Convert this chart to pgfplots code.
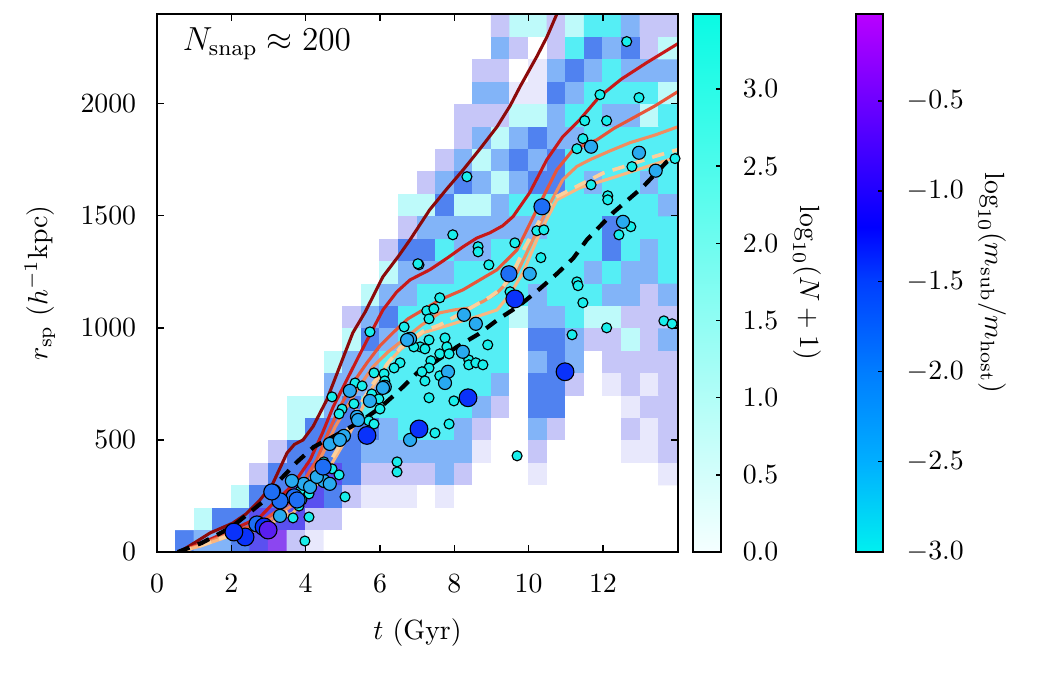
\documentclass[border=0pt]{standalone}
\usepackage{pgfplots}
\pgfplotsset{compat=1.18}
\definecolor{lcA}{RGB}{140,10,10}
\definecolor{lcB}{RGB}{200,25,25}
\definecolor{lcC}{RGB}{232,85,58}
\definecolor{lcD}{RGB}{242,140,95}
\definecolor{lcE}{RGB}{252,208,155}
\definecolor{lcF}{RGB}{250,182,128}
\definecolor{mS}{RGB}{25,238,235}
\definecolor{mM}{RGB}{40,170,240}
\definecolor{mL}{RGB}{30,110,245}
\definecolor{mX}{RGB}{10,50,250}
\definecolor{mP}{RGB}{90,30,240}
\begin{document}
\begin{tikzpicture}[x=1pt,y=1pt]
\useasboundingbox (0,0) rectangle (378,243);
\begin{axis}[
  at={(56.52pt,44.28pt)}, anchor=south west,
  scale only axis, width=187.56pt, height=193.68pt,
  xmin=0, xmax=14.02, ymin=0, ymax=2400,
  xtick={0,2,...,12}, ytick={0,500,...,2000},
  tick align=inside, major tick length=2.5pt,
  tick style={black, line width=0.5pt},
  axis line style={black, line width=0.7pt},
  /pgf/number format/1000 sep={},
  xticklabel style={yshift=-4.5pt},
  yticklabel style={xshift=-4pt},
  xlabel={$t$ (Gyr)}, ylabel={$r_{\rm sp}$ ($h^{-1}$kpc)},
  xlabel style={at={(axis description cs:0.5,-0.1506)}, anchor=center},
  ylabel style={at={(axis description cs:-0.2246,0.5)}, anchor=center},
  colormap={hist}{rgb255=(255,255,255) rgb255=(232,232,252) rgb255=(198,198,248) rgb255=(190,250,250) rgb255=(85,238,245) rgb255=(130,180,248) rgb255=(80,130,240) rgb255=(90,80,240) rgb255=(140,70,240)},
  point meta min=0, point meta max=8,
  axis on top, clip=true
]
\addplot[matrix plot*, mesh/cols=27, point meta=explicit] coordinates {
(0.75,50)[6] (1.25,50)[5] (1.75,50)[5] (2.25,50)[6] (2.75,50)[7] (3.25,50)[8] (3.75,50)[2] (4.25,50)[1] (4.75,50)[0] (5.25,50)[0] (5.75,50)[0] (6.25,50)[0] (6.75,50)[0] (7.25,50)[0] (7.75,50)[0] (8.25,50)[0] (8.75,50)[0] (9.25,50)[0] (9.75,50)[0] (10.25,50)[0] (10.75,50)[0] (11.25,50)[0] (11.75,50)[0] (12.25,50)[0] (12.75,50)[0] (13.25,50)[0] (13.75,50)[0]
(0.75,150)[0] (1.25,150)[3] (1.75,150)[6] (2.25,150)[6] (2.75,150)[7] (3.25,150)[7] (3.75,150)[7] (4.25,150)[2] (4.75,150)[2] (5.25,150)[0] (5.75,150)[0] (6.25,150)[0] (6.75,150)[0] (7.25,150)[0] (7.75,150)[0] (8.25,150)[0] (8.75,150)[0] (9.25,150)[0] (9.75,150)[0] (10.25,150)[0] (10.75,150)[0] (11.25,150)[0] (11.75,150)[0] (12.25,150)[0] (12.75,150)[0] (13.25,150)[0] (13.75,150)[0]
(0.75,250)[0] (1.25,250)[0] (1.75,250)[0] (2.25,250)[3] (2.75,250)[6] (3.25,250)[6] (3.75,250)[7] (4.25,250)[7] (4.75,250)[6] (5.25,250)[2] (5.75,250)[1] (6.25,250)[1] (6.75,250)[1] (7.25,250)[0] (7.75,250)[1] (8.25,250)[0] (8.75,250)[0] (9.25,250)[0] (9.75,250)[0] (10.25,250)[0] (10.75,250)[0] (11.25,250)[0] (11.75,250)[0] (12.25,250)[0] (12.75,250)[0] (13.25,250)[0] (13.75,250)[0]
(0.75,350)[0] (1.25,350)[0] (1.75,350)[0] (2.25,350)[0] (2.75,350)[2] (3.25,350)[6] (3.75,350)[6] (4.25,350)[7] (4.75,350)[7] (5.25,350)[6] (5.75,350)[2] (6.25,350)[2] (6.75,350)[2] (7.25,350)[2] (7.75,350)[5] (8.25,350)[2] (8.75,350)[0] (9.25,350)[0] (9.75,350)[0] (10.25,350)[1] (10.75,350)[0] (11.25,350)[0] (11.75,350)[0] (12.25,350)[0] (12.75,350)[0] (13.25,350)[0] (13.75,350)[1]
(0.75,450)[0] (1.25,450)[0] (1.75,450)[0] (2.25,450)[0] (2.75,450)[0] (3.25,450)[2] (3.75,450)[6] (4.25,450)[6] (4.75,450)[6] (5.25,450)[6] (5.75,450)[5] (6.25,450)[5] (6.75,450)[5] (7.25,450)[5] (7.75,450)[5] (8.25,450)[5] (8.75,450)[1] (9.25,450)[0] (9.75,450)[0] (10.25,450)[2] (10.75,450)[0] (11.25,450)[0] (11.75,450)[0] (12.25,450)[0] (12.75,450)[1] (13.25,450)[1] (13.75,450)[2]
(0.75,550)[0] (1.25,550)[0] (1.75,550)[0] (2.25,550)[0] (2.75,550)[0] (3.25,550)[0] (3.75,550)[3] (4.25,550)[6] (4.75,550)[6] (5.25,550)[6] (5.75,550)[6] (6.25,550)[5] (6.75,550)[4] (7.25,550)[4] (7.75,550)[4] (8.25,550)[5] (8.75,550)[2] (9.25,550)[0] (9.75,550)[0] (10.25,550)[5] (10.75,550)[2] (11.25,550)[0] (11.75,550)[0] (12.25,550)[0] (12.75,550)[2] (13.25,550)[1] (13.75,550)[2]
(0.75,650)[0] (1.25,650)[0] (1.75,650)[0] (2.25,650)[0] (2.75,650)[0] (3.25,650)[0] (3.75,650)[3] (4.25,650)[3] (4.75,650)[5] (5.25,650)[6] (5.75,650)[4] (6.25,650)[4] (6.75,650)[4] (7.25,650)[4] (7.75,650)[4] (8.25,650)[4] (8.75,650)[5] (9.25,650)[2] (9.75,650)[0] (10.25,650)[6] (10.75,650)[6] (11.25,650)[0] (11.75,650)[0] (12.25,650)[0] (12.75,650)[1] (13.25,650)[2] (13.75,650)[2]
(0.75,750)[0] (1.25,750)[0] (1.75,750)[0] (2.25,750)[0] (2.75,750)[0] (3.25,750)[0] (3.75,750)[0] (4.25,750)[0] (4.75,750)[5] (5.25,750)[5] (5.75,750)[5] (6.25,750)[4] (6.75,750)[4] (7.25,750)[4] (7.75,750)[4] (8.25,750)[4] (8.75,750)[4] (9.25,750)[5] (9.75,750)[0] (10.25,750)[6] (10.75,750)[6] (11.25,750)[2] (11.75,750)[0] (12.25,750)[1] (12.75,750)[2] (13.25,750)[1] (13.75,750)[2]
(0.75,850)[0] (1.25,850)[0] (1.75,850)[0] (2.25,850)[0] (2.75,850)[0] (3.25,850)[0] (3.75,850)[0] (4.25,850)[0] (4.75,850)[3] (5.25,850)[5] (5.75,850)[5] (6.25,850)[4] (6.75,850)[4] (7.25,850)[4] (7.75,850)[4] (8.25,850)[4] (8.75,850)[4] (9.25,850)[4] (9.75,850)[0] (10.25,850)[5] (10.75,850)[6] (11.25,850)[5] (11.75,850)[0] (12.25,850)[2] (12.75,850)[2] (13.25,850)[2] (13.75,850)[2]
(0.75,950)[0] (1.25,950)[0] (1.75,950)[0] (2.25,950)[0] (2.75,950)[0] (3.25,950)[0] (3.75,950)[0] (4.25,950)[0] (4.75,950)[0] (5.25,950)[3] (5.75,950)[6] (6.25,950)[5] (6.75,950)[4] (7.25,950)[4] (7.75,950)[4] (8.25,950)[4] (8.75,950)[4] (9.25,950)[4] (9.75,950)[0] (10.25,950)[6] (10.75,950)[6] (11.25,950)[5] (11.75,950)[2] (12.25,950)[2] (12.75,950)[3] (13.25,950)[2] (13.75,950)[5]
(0.75,1050)[0] (1.25,1050)[0] (1.75,1050)[0] (2.25,1050)[0] (2.75,1050)[0] (3.25,1050)[0] (3.75,1050)[0] (4.25,1050)[0] (4.75,1050)[0] (5.25,1050)[2] (5.75,1050)[5] (6.25,1050)[6] (6.75,1050)[4] (7.25,1050)[4] (7.75,1050)[4] (8.25,1050)[4] (8.75,1050)[4] (9.25,1050)[4] (9.75,1050)[3] (10.25,1050)[5] (10.75,1050)[5] (11.25,1050)[4] (11.75,1050)[3] (12.25,1050)[3] (12.75,1050)[2] (13.25,1050)[2] (13.75,1050)[2]
(0.75,1150)[0] (1.25,1150)[0] (1.75,1150)[0] (2.25,1150)[0] (2.75,1150)[0] (3.25,1150)[0] (3.75,1150)[0] (4.25,1150)[0] (4.75,1150)[0] (5.25,1150)[0] (5.75,1150)[3] (6.25,1150)[5] (6.75,1150)[5] (7.25,1150)[4] (7.75,1150)[4] (8.25,1150)[4] (8.75,1150)[4] (9.25,1150)[4] (9.75,1150)[4] (10.25,1150)[5] (10.75,1150)[4] (11.25,1150)[4] (11.75,1150)[4] (12.25,1150)[5] (12.75,1150)[5] (13.25,1150)[2] (13.75,1150)[5]
(0.75,1250)[0] (1.25,1250)[0] (1.75,1250)[0] (2.25,1250)[0] (2.75,1250)[0] (3.25,1250)[0] (3.75,1250)[0] (4.25,1250)[0] (4.75,1250)[0] (5.25,1250)[0] (5.75,1250)[0] (6.25,1250)[3] (6.75,1250)[5] (7.25,1250)[5] (7.75,1250)[5] (8.25,1250)[4] (8.75,1250)[4] (9.25,1250)[4] (9.75,1250)[4] (10.25,1250)[4] (10.75,1250)[4] (11.25,1250)[4] (11.75,1250)[5] (12.25,1250)[4] (12.75,1250)[5] (13.25,1250)[5] (13.75,1250)[4]
(0.75,1350)[0] (1.25,1350)[0] (1.75,1350)[0] (2.25,1350)[0] (2.75,1350)[0] (3.25,1350)[0] (3.75,1350)[0] (4.25,1350)[0] (4.75,1350)[0] (5.25,1350)[0] (5.75,1350)[0] (6.25,1350)[2] (6.75,1350)[6] (7.25,1350)[6] (7.75,1350)[4] (8.25,1350)[5] (8.75,1350)[5] (9.25,1350)[4] (9.75,1350)[4] (10.25,1350)[4] (10.75,1350)[4] (11.25,1350)[4] (11.75,1350)[4] (12.25,1350)[6] (12.75,1350)[4] (13.25,1350)[5] (13.75,1350)[4]
(0.75,1450)[0] (1.25,1450)[0] (1.75,1450)[0] (2.25,1450)[0] (2.75,1450)[0] (3.25,1450)[0] (3.75,1450)[0] (4.25,1450)[0] (4.75,1450)[0] (5.25,1450)[0] (5.75,1450)[0] (6.25,1450)[0] (6.75,1450)[2] (7.25,1450)[5] (7.75,1450)[5] (8.25,1450)[5] (8.75,1450)[5] (9.25,1450)[5] (9.75,1450)[5] (10.25,1450)[5] (10.75,1450)[4] (11.25,1450)[4] (11.75,1450)[4] (12.25,1450)[6] (12.75,1450)[4] (13.25,1450)[4] (13.75,1450)[4]
(0.75,1550)[0] (1.25,1550)[0] (1.75,1550)[0] (2.25,1550)[0] (2.75,1550)[0] (3.25,1550)[0] (3.75,1550)[0] (4.25,1550)[0] (4.75,1550)[0] (5.25,1550)[0] (5.75,1550)[0] (6.25,1550)[0] (6.75,1550)[3] (7.25,1550)[3] (7.75,1550)[6] (8.25,1550)[3] (8.75,1550)[3] (9.25,1550)[5] (9.75,1550)[4] (10.25,1550)[4] (10.75,1550)[4] (11.25,1550)[4] (11.75,1550)[4] (12.25,1550)[4] (12.75,1550)[4] (13.25,1550)[4] (13.75,1550)[5]
(0.75,1650)[0] (1.25,1650)[0] (1.75,1650)[0] (2.25,1650)[0] (2.75,1650)[0] (3.25,1650)[0] (3.75,1650)[0] (4.25,1650)[0] (4.75,1650)[0] (5.25,1650)[0] (5.75,1650)[0] (6.25,1650)[0] (6.75,1650)[0] (7.25,1650)[2] (7.75,1650)[5] (8.25,1650)[6] (8.75,1650)[5] (9.25,1650)[3] (9.75,1650)[5] (10.25,1650)[6] (10.75,1650)[6] (11.25,1650)[4] (11.75,1650)[5] (12.25,1650)[4] (12.75,1650)[4] (13.25,1650)[5] (13.75,1650)[4]
(0.75,1750)[0] (1.25,1750)[0] (1.75,1750)[0] (2.25,1750)[0] (2.75,1750)[0] (3.25,1750)[0] (3.75,1750)[0] (4.25,1750)[0] (4.75,1750)[0] (5.25,1750)[0] (5.75,1750)[0] (6.25,1750)[0] (6.75,1750)[0] (7.25,1750)[0] (7.75,1750)[2] (8.25,1750)[5] (8.75,1750)[3] (9.25,1750)[5] (9.75,1750)[6] (10.25,1750)[5] (10.75,1750)[6] (11.25,1750)[4] (11.75,1750)[4] (12.25,1750)[4] (12.75,1750)[4] (13.25,1750)[4] (13.75,1750)[4]
(0.75,1850)[0] (1.25,1850)[0] (1.75,1850)[0] (2.25,1850)[0] (2.75,1850)[0] (3.25,1850)[0] (3.75,1850)[0] (4.25,1850)[0] (4.75,1850)[0] (5.25,1850)[0] (5.75,1850)[0] (6.25,1850)[0] (6.75,1850)[0] (7.25,1850)[0] (7.75,1850)[0] (8.25,1850)[2] (8.75,1850)[5] (9.25,1850)[3] (9.75,1850)[5] (10.25,1850)[6] (10.75,1850)[5] (11.25,1850)[5] (11.75,1850)[4] (12.25,1850)[4] (12.75,1850)[4] (13.25,1850)[4] (13.75,1850)[4]
(0.75,1950)[0] (1.25,1950)[0] (1.75,1950)[0] (2.25,1950)[0] (2.75,1950)[0] (3.25,1950)[0] (3.75,1950)[0] (4.25,1950)[0] (4.75,1950)[0] (5.25,1950)[0] (5.75,1950)[0] (6.25,1950)[0] (6.75,1950)[0] (7.25,1950)[0] (7.75,1950)[0] (8.25,1950)[2] (8.75,1950)[2] (9.25,1950)[2] (9.75,1950)[3] (10.25,1950)[3] (10.75,1950)[5] (11.25,1950)[4] (11.75,1950)[4] (12.25,1950)[5] (12.75,1950)[5] (13.25,1950)[3] (13.75,1950)[4]
(0.75,2050)[0] (1.25,2050)[0] (1.75,2050)[0] (2.25,2050)[0] (2.75,2050)[0] (3.25,2050)[0] (3.75,2050)[0] (4.25,2050)[0] (4.75,2050)[0] (5.25,2050)[0] (5.75,2050)[0] (6.25,2050)[0] (6.75,2050)[0] (7.25,2050)[0] (7.75,2050)[0] (8.25,2050)[0] (8.75,2050)[5] (9.25,2050)[5] (9.75,2050)[1] (10.25,2050)[1] (10.75,2050)[6] (11.25,2050)[5] (11.75,2050)[4] (12.25,2050)[4] (12.75,2050)[4] (13.25,2050)[4] (13.75,2050)[3]
(0.75,2150)[0] (1.25,2150)[0] (1.75,2150)[0] (2.25,2150)[0] (2.75,2150)[0] (3.25,2150)[0] (3.75,2150)[0] (4.25,2150)[0] (4.75,2150)[0] (5.25,2150)[0] (5.75,2150)[0] (6.25,2150)[0] (6.75,2150)[0] (7.25,2150)[0] (7.75,2150)[0] (8.25,2150)[0] (8.75,2150)[2] (9.25,2150)[2] (9.75,2150)[0] (10.25,2150)[1] (10.75,2150)[5] (11.25,2150)[6] (11.75,2150)[5] (12.25,2150)[4] (12.75,2150)[5] (13.25,2150)[5] (13.75,2150)[5]
(0.75,2250)[0] (1.25,2250)[0] (1.75,2250)[0] (2.25,2250)[0] (2.75,2250)[0] (3.25,2250)[0] (3.75,2250)[0] (4.25,2250)[0] (4.75,2250)[0] (5.25,2250)[0] (5.75,2250)[0] (6.25,2250)[0] (6.75,2250)[0] (7.25,2250)[0] (7.75,2250)[0] (8.25,2250)[0] (8.75,2250)[0] (9.25,2250)[5] (9.75,2250)[2] (10.25,2250)[0] (10.75,2250)[2] (11.25,2250)[4] (11.75,2250)[6] (12.25,2250)[5] (12.75,2250)[6] (13.25,2250)[2] (13.75,2250)[3]
(0.75,2350)[0] (1.25,2350)[0] (1.75,2350)[0] (2.25,2350)[0] (2.75,2350)[0] (3.25,2350)[0] (3.75,2350)[0] (4.25,2350)[0] (4.75,2350)[0] (5.25,2350)[0] (5.75,2350)[0] (6.25,2350)[0] (6.75,2350)[0] (7.25,2350)[0] (7.75,2350)[0] (8.25,2350)[0] (8.75,2350)[0] (9.25,2350)[2] (9.75,2350)[3] (10.25,2350)[3] (10.75,2350)[2] (11.25,2350)[3] (11.75,2350)[4] (12.25,2350)[4] (12.75,2350)[5] (13.25,2350)[2] (13.75,2350)[2]
};
% scatter: subhaloes
\addplot[only marks, mark=*, mark size=1.8pt, mark options={fill=mS, draw=black, line width=0.4pt}] coordinates {
(12.64,2277) (11.92,2040) (12.97,2027) (11.51,1924) (12.1,1924) (11.46,1844) (11.3,1799) (8.34,1674) (12.78,1719) (13.94,1755) (11.68,1638) (12.13,1589) (12.13,1571) (12.75,1451) (12.43,1415) (7.96,1415) (8.64,1362) (8.64,1339) (8.93,1281) (9.63,1379) (10.22,1433) (10.41,1437) (10.33,1313) (11.3,1205) (7.05,1281) (9.5,1161) (11.33,1188) (11.46,1112) (12.1,1000) (11.17,969) (13.64,1031) (13.86,1018) (9.69,429) (7.61,1134) (7.26,1076) (7.45,1085) (7.32,1040) (8.9,924) (7.75,955) (7.32,946) (7.08,915) (7.21,906) (7.8,915) (7.61,884) (7.86,884) (7.37,853) (8.39,857) (8.39,835) (8.58,844) (8.77,835) (7.32,821) (7.13,804) (7.61,786) (7.21,763) (7.32,688) (7.99,674) (7.86,571) (7.48,531) (5.73,982) (6.65,1004) (6.91,915) (6.54,844) (6.38,821) (6.11,795) (5.84,799) (4.71,692) (5.33,754) (5.52,741) (5.78,705) (6.13,763) (5.97,683) (6.0,638) (5.3,661) (4.98,638) (4.9,616) (5.7,585) (5.84,571) (4.49,402) (4.71,371) (4.9,344) (5.06,246) (3.85,272) (4.09,259) (3.82,205) (4.09,156) (3.98,49) (6.46,402) (6.46,357) (7.02,1286) (3.66,152) (3.9,232)
};
\addplot[only marks, mark=*, mark size=2.35pt, mark options={fill=mM, draw=black, line width=0.4pt}] coordinates {
(11.68,1808) (12.97,1781) (13.42,1701) (12.54,1473) (10.03,1241) (8.26,1058) (8.58,1018) (8.23,893) (7.83,804) (7.75,754) (6.81,951) (5.19,719) (6.13,737) (5.73,674) (5.38,603) (5.03,518) (4.65,482) (4.49,317) (4.65,304) (3.95,304) (4.12,290) (3.63,317) (3.15,272) (3.31,161) (4.3,335) (4.92,500) (6.08,732) (5.41,589) (6.81,500) (6.73,946)
};
\addplot[only marks, mark=*, mark size=2.9pt, mark options={fill=mL, draw=black, line width=0.4pt}] coordinates {
(10.36,1540) (9.47,1241) (3.69,246) (3.31,228) (2.69,125) (3.09,268) (4.47,379) (3.77,232)
};
\addplot[only marks, mark=*, mark size=3.2pt, mark options={fill=mX, draw=black, line width=0.4pt}] coordinates {
(9.63,1129) (10.98,804) (8.37,688) (7.05,549) (5.65,520) (2.88,112) (2.37,67) (2.07,89)
};
\addplot[only marks, mark=*, mark size=3.2pt, mark options={fill=mP, draw=black, line width=0.4pt}] coordinates {(2.99,98)};
% splashback tracks
\addplot[no marks, line width=1.1pt, color=lcA] coordinates {
(0.6,0) (1.0,40) (1.43,85) (2.04,129) (2.4,170) (2.77,232) (3.1,300) (3.5,442) (3.7,480) (3.93,500) (4.2,560) (4.57,679) (4.9,820) (5.27,978) (5.6,1070) (6.08,1228) (6.5,1320) (6.81,1393) (7.34,1527) (7.8,1620) (8.24,1705) (8.7,1800) (9.15,1897) (9.5,1990) (9.77,2076) (10.22,2210) (10.5,2300) (10.76,2400) (10.9,2460)
};
\addplot[no marks, line width=1.1pt, color=lcB] coordinates {
(0.6,0) (1.2,40) (1.88,89) (2.3,120) (2.77,156) (3.15,220) (3.66,300) (4.12,411) (4.45,530) (4.74,647) (5.38,857) (5.7,960) (6.08,1080) (6.45,1160) (6.81,1214) (7.34,1259) (7.8,1310) (8.24,1362) (8.6,1400) (8.96,1424) (9.3,1455) (9.58,1496) (10.03,1603) (10.49,1750) (10.92,1853) (11.38,1929) (11.9,2030) (12.5,2110) (13.18,2183) (14.02,2268)
};
\addplot[no marks, line width=1.1pt, color=lcC] coordinates {
(0.6,0) (1.2,35) (1.88,80) (2.77,130) (3.2,180) (3.66,232) (4.0,330) (4.3,411) (4.6,530) (4.92,647) (5.3,760) (5.65,844) (6.0,920) (6.35,978) (6.75,1040) (7.16,1080) (7.61,1125) (8.24,1170) (8.7,1215) (9.15,1259) (9.69,1348) (10.22,1527) (10.76,1705) (11.2,1795) (11.84,1839) (12.3,1890) (12.73,1929) (13.4,1990) (14.02,2054)
};
\addplot[no marks, line width=1.1pt, color=lcD] coordinates {
(0.6,0) (1.2,32) (1.88,75) (2.77,115) (3.2,160) (3.66,210) (4.1,320) (4.47,442) (4.8,560) (5.11,647) (5.45,740) (5.81,826) (6.2,890) (6.62,946) (7.1,1010) (7.61,1067) (8.0,1080) (8.42,1089) (8.8,1120) (9.15,1156) (9.69,1246) (10.03,1362) (10.49,1527) (10.92,1661) (11.3,1720) (11.65,1750) (12.2,1790) (12.73,1826) (13.4,1860) (14.02,1897)
};
\addplot[no marks, line width=1.1pt, color=lcF] coordinates {
(0.6,0) (1.2,28) (1.88,67) (2.77,100) (3.2,140) (3.66,174) (4.2,280) (4.65,379) (5.19,531) (5.81,737) (6.2,840) (6.54,902) (7.16,978) (7.61,1000) (8.2,1030) (8.7,1055) (9.15,1080) (9.5,1150) (9.85,1246) (10.3,1424) (10.76,1571) (11.38,1625) (12.27,1670) (13.18,1719) (14.02,1763)
};
\addplot[no marks, line width=1.3pt, color=lcE, dash pattern=on 4.5pt off 3pt] coordinates {
(0.6,0) (1.2,30) (1.88,70) (2.77,105) (3.2,150) (3.66,195) (4.2,300) (4.65,400) (5.0,500) (5.4,640) (5.81,750) (6.2,840) (6.54,910) (7.16,985) (7.61,1013) (8.24,1070) (8.96,1138) (9.3,1180) (9.58,1246) (9.9,1360) (10.3,1480) (10.7,1580) (11.38,1638) (12.0,1690) (12.73,1728) (13.4,1765) (14.02,1795)
};
\addplot[no marks, line width=1.5pt, color=black, dash pattern=on 4.5pt off 3.2pt] coordinates {
(0.56,0) (1.2,40) (2.0,110) (2.88,228) (3.3,320) (3.77,402) (4.22,469) (4.8,520) (5.46,580) (6.0,643) (6.48,714) (7.0,799) (7.48,848) (8.07,915) (8.66,973) (9.2,1040) (9.74,1098) (10.3,1174) (10.76,1241) (11.2,1310) (11.57,1393) (12.27,1513) (13.08,1629) (13.72,1741) (14.02,1770)
};
\node[anchor=west, inner sep=0pt] at (axis cs:0.68,2265) {\large $N_{\rm snap}\approx 200$};
\end{axis}
% colour bar 1
\begin{axis}[
  at={(249.48pt,44.28pt)}, anchor=south west,
  scale only axis, width=10.08pt, height=193.68pt,
  xmin=0, xmax=1, ymin=0, ymax=3.486,
  xtick=\empty, ytick={0,0.5,...,3},
  ytick pos=right, yticklabel pos=right,
  tick align=inside, major tick length=1.8pt,
  tick style={black, line width=0.5pt},
  axis line style={black, line width=0.7pt},
  yticklabel style={xshift=4.3pt, /pgf/number format/.cd, fixed, fixed zerofill, precision=1},
  ylabel={$\log_{10}(N+1)$},
  ylabel style={at={(axis description cs:4.07,0.5)}, anchor=center, rotate=180},
  colormap={cbone}{rgb255=(245,255,255) rgb255=(10,250,228)},
  point meta min=0, point meta max=3.486,
  axis on top
]
\addplot[surf, shader=interp, mesh/cols=2, point meta=y] coordinates {(0,0) (1,0) (0,3.486) (1,3.486)};
\end{axis}
% colour bar 2
\begin{axis}[
  at={(308.16pt,44.28pt)}, anchor=south west,
  scale only axis, width=9.72pt, height=193.68pt,
  xmin=0, xmax=1, ymin=-3, ymax=-0.018,
  xtick=\empty, ytick={-3,-2.5,...,-0.5},
  ytick pos=right, yticklabel pos=right,
  tick align=inside, major tick length=1.8pt,
  tick style={black, line width=0.5pt},
  axis line style={black, line width=0.7pt},
  yticklabel style={xshift=5pt, /pgf/number format/.cd, fixed, fixed zerofill, precision=1},
  ylabel={$\log_{10}(m_{\rm sub}/m_{\rm host})$},
  ylabel style={at={(axis description cs:5.04,0.5)}, anchor=center, rotate=180},
  colormap={cbtwo}{rgb255(0cm)=(0,240,240) rgb255(5cm)=(0,175,255) rgb255(10cm)=(0,125,255) rgb255(15cm)=(0,62,255) rgb255(18cm)=(0,0,255) rgb255(25cm)=(110,0,255) rgb255(29.82cm)=(185,0,255)},
  point meta min=-3, point meta max=-0.018,
  axis on top
]
\addplot[surf, shader=interp, mesh/cols=2, point meta=y] coordinates {
(0,-3) (1,-3)
(0,-2.5) (1,-2.5)
(0,-2) (1,-2)
(0,-1.5) (1,-1.5)
(0,-1.2) (1,-1.2)
(0,-0.5) (1,-0.5)
(0,-0.018) (1,-0.018)
};
\end{axis}
\end{tikzpicture}
\end{document}
